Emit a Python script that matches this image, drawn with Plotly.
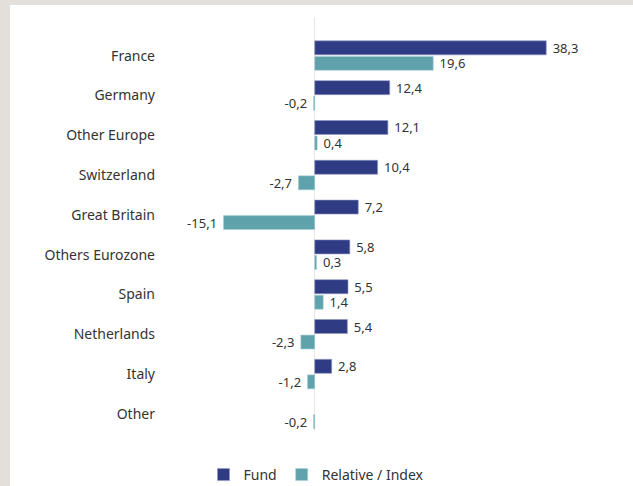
import plotly.graph_objects as go

# Country breakdown: fund weight vs. relative to index (%)
countries = ['France', 'Germany', 'Other Europe', 'Switzerland', 'Great Britain',
             'Others Eurozone', 'Spain', 'Netherlands', 'Italy', 'Other']
fund = [38.3, 12.4, 12.1, 10.4, 7.2, 5.8, 5.5, 5.4, 2.8, None]
relative = [19.6, -0.2, 0.4, -2.7, -15.1, 0.3, 1.4, -2.3, -1.2, -0.2]

W, H = 633, 486
L, R, T, B = 160, 13, 17, 55

fund_color = '#2f3c83'
rel_color = '#5fa2ac'
txt_color = '#333333'


def labels(vals):
    # pad the value label away from the bar end
    out = []
    for v in vals:
        if v is None:
            out.append('')
            continue
        s = ('%.1f' % v).replace('.', ',')
        out.append('\u00a0' + s if v >= 0 else s + '\u00a0')
    return out


def makeFigure():
    fig = go.Figure()

    fig.add_trace(go.Bar(y=countries, x=fund, orientation='h', name='Fund',
                         marker=dict(color=fund_color, line=dict(color='#8f97c4', width=0.6)),
                         text=labels(fund), texttemplate='%{text}', textposition='outside',
                         constraintext='none',
                         textfont=dict(size=13, color=txt_color), cliponaxis=False))
    fig.add_trace(go.Bar(y=countries, x=relative, orientation='h', name='Relative / Index',
                         marker=dict(color=rel_color, line=dict(color='#a9d0d5', width=0.6)),
                         text=labels(relative), texttemplate='%{text}', textposition='outside',
                         constraintext='none',
                         textfont=dict(size=13, color=txt_color), cliponaxis=False))

    pw = W - L - R
    ph = H - T - B
    # grey frame strips on the left and top of the panel
    fig.add_shape(type='rect', xref='paper', yref='paper', layer='below',
                  x0=(0 - L) / pw, x1=(10 - L) / pw, y0=-B / ph, y1=1 + T / ph,
                  fillcolor='#e3dfdb', line=dict(width=0))
    fig.add_shape(type='rect', xref='paper', yref='paper', layer='below',
                  x0=(0 - L) / pw, x1=1 + R / pw, y0=1 + (T - 5) / ph, y1=1 + T / ph,
                  fillcolor='#e3dfdb', line=dict(width=0))

    fig.update_layout(
        width=W, height=H,
        margin=dict(l=L, r=R, t=T, b=B),
        paper_bgcolor='white', plot_bgcolor='white',
        font=dict(family='Noto Sans', size=14, color=txt_color),
        barmode='group', bargap=0.22, bargroupgap=0.1,
        showlegend=True,
        legend=dict(orientation='h', xref='container', yref='container',
                    x=0.5, xanchor='center', y=1 - 475 / H, yanchor='middle',
                    font=dict(size=14), traceorder='normal',
                    itemwidth=30),
        xaxis=dict(range=[-25.6, 50.5], showgrid=False, showticklabels=False,
                   zeroline=True, zerolinecolor='#e6e6e6', zerolinewidth=1),
        yaxis=dict(range=[9.43, -0.97], showgrid=False, ticks='',
                   ticklabelstandoff=4, tickfont=dict(size=14)),
    )
    return fig


fig = makeFigure()
fig.write_html("out.html", config={'displayModeBar': False},
               post_script="document.body.style.margin='0';")
